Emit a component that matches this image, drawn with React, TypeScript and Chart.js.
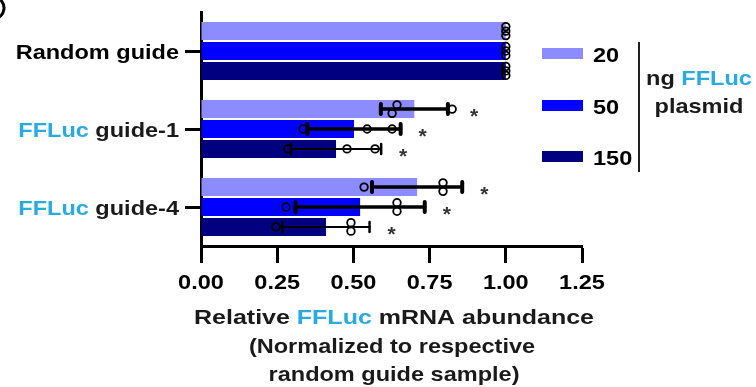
import React, { useEffect, useRef } from "react";
import { Chart, registerables } from "chart.js";

Chart.register(...registerables);

// ---------- data ----------
const categoryHighlight = ["", "FFLuc ", "FFLuc "];
const categoryRest = ["Random guide", "guide-1", "guide-4"];
const categories = categoryRest.map((r, i) => categoryHighlight[i] + r);

const seriesLabels = ["20", "50", "150"];
const seriesColors = ["#8c8cff", "#0000ff", "#000080"];

const mean20 = [1.0, 0.7, 0.709];
const mean50 = [1.0, 0.502, 0.522];
const mean150 = [1.0, 0.443, 0.41];

const sd20 = [0, 0.11, 0.148];
const sd50 = [0, 0.153, 0.212];
const sd150 = [0, 0.148, 0.143];

const reps20 = [
  [1, 1, 1],
  [0.643, 0.627, 0.824],
  [0.535, 0.794, 0.794],
];
const reps50 = [
  [1, 1, 1],
  [0.335, 0.545, 0.627],
  [0.279, 0.643, 0.643],
];
const reps150 = [
  [1, 1, 1],
  [0.285, 0.479, 0.571],
  [0.246, 0.492, 0.492],
];

const sig20 = ["", "*", "*"];
const sig50 = ["", "*", "*"];
const sig150 = ["", "*", "*"];

const xTickValues = [0, 0.25, 0.5, 0.75, 1.0, 1.25];
const xTickLabels = ["0.00", "0.25", "0.50", "0.75", "1.00", "1.25"];

const legendTitleHighlight = "FFLuc";

// ---------- styling ----------
const FONT = "'Liberation Sans', Arial, Helvetica, sans-serif";
const DARK = "#1a1a1a";
const CYAN = "#29abe2";
const FS = 21;
const SX = 1.12;

type Part = { text: string; color: string };

function drawParts(
  ctx: CanvasRenderingContext2D,
  parts: Part[],
  x: number,
  y: number,
  align: "left" | "right" | "center",
  size: number,
  sx: number
) {
  ctx.save();
  ctx.font = `bold ${size}px ${FONT}`;
  ctx.textBaseline = "alphabetic";
  ctx.textAlign = "left";
  const widths = parts.map((p) => ctx.measureText(p.text).width);
  const total = widths.reduce((a, b) => a + b, 0) * sx;
  const start = align === "left" ? x : align === "right" ? x - total : x - total / 2;
  ctx.translate(start, y);
  ctx.scale(sx, 1);
  let cx = 0;
  parts.forEach((p, i) => {
    ctx.fillStyle = p.color;
    ctx.fillText(p.text, cx, 0);
    cx += widths[i];
  });
  ctx.restore();
}

function pointOffsets(pixels: number[]): number[] {
  const idx = pixels.map((_, i) => i).sort((a, b) => pixels[b] - pixels[a]);
  const offs = new Array(pixels.length).fill(0);
  const clusters: number[][] = [];
  idx.forEach((i) => {
    const last = clusters[clusters.length - 1];
    if (last && Math.abs(pixels[last[last.length - 1]] - pixels[i]) < 8) last.push(i);
    else clusters.push([i]);
  });
  clusters.forEach((c) => {
    const n = c.length;
    const step = n === 2 ? 8.5 : 4.5;
    c.forEach((i, k) => {
      offs[i] = (k - (n - 1) / 2) * step;
    });
  });
  return offs;
}

const means = [mean20, mean50, mean150];
const sds = [sd20, sd50, sd150];
const reps = [reps20, reps50, reps150];
const sigs = [sig20, sig50, sig150];
const errWidths = [3.5, 3.5, 2];

const overlayPlugin = {
  id: "overlay",
  afterDatasetsDraw(chart: any) {
    const ctx: CanvasRenderingContext2D = chart.ctx;
    const xs = chart.scales.x;
    means.forEach((m, d) => {
      const meta = chart.getDatasetMeta(d);
      m.forEach((v, i) => {
        const bar = meta.data[i];
        const y = bar.y;
        const sd = sds[d][i];
        let hiPx = xs.getPixelForValue(v);
        if (sd > 0) {
          const lo = xs.getPixelForValue(v - sd);
          const hi = xs.getPixelForValue(v + sd);
          hiPx = hi;
          ctx.save();
          ctx.strokeStyle = "#000";
          ctx.lineCap = "round";
          ctx.lineWidth = errWidths[d];
          ctx.beginPath();
          ctx.moveTo(lo, y);
          ctx.lineTo(hi, y);
          ctx.stroke();
          ctx.lineWidth = errWidths[d] + 0.5;
          ctx.beginPath();
          ctx.moveTo(lo, y - 5);
          ctx.lineTo(lo, y + 5);
          ctx.moveTo(hi, y - 5);
          ctx.lineTo(hi, y + 5);
          ctx.stroke();
          ctx.restore();
        }
        // points
        const pts = reps[d][i].map((r) => xs.getPixelForValue(r));
        const offs = pointOffsets(pts);
        ctx.save();
        ctx.strokeStyle = "#000";
        ctx.lineWidth = 1.8;
        pts.forEach((px, k) => {
          ctx.beginPath();
          ctx.arc(px, y + offs[k], 3.8, 0, Math.PI * 2);
          ctx.stroke();
        });
        ctx.restore();
        // significance
        const s = sigs[d][i];
        if (s) {
          const maxPt = Math.max(hiPx, ...pts);
          ctx.save();
          ctx.font = `bold 21px ${FONT}`;
          ctx.fillStyle = "#333";
          ctx.textAlign = "center";
          ctx.textBaseline = "alphabetic";
          ctx.fillText(s, maxPt + 22, y + 14);
          ctx.restore();
        }
      });
    });
  },
  afterDraw(chart: any) {
    const ctx: CanvasRenderingContext2D = chart.ctx;
    const xs = chart.scales.x;
    const ys = chart.scales.y;
    // y labels
    categories.forEach((_, i) => {
      const py = ys.getPixelForTick(i);
      const parts: Part[] = [];
      if (categoryHighlight[i]) parts.push({ text: categoryHighlight[i], color: CYAN });
      parts.push({ text: categoryRest[i], color: i === 0 ? "#000" : DARK });
      drawParts(ctx, parts, 179, py + 7.5, "right", FS, SX);
    });
    // x tick labels
    xTickValues.forEach((v, i) => {
      const px = xs.getPixelForValue(v);
      drawParts(ctx, [{ text: xTickLabels[i], color: "#000" }], px, 289, "center", FS, SX);
    });
    // x title
    const cx = 394;
    drawParts(
      ctx,
      [
        { text: "Relative ", color: DARK },
        { text: "FFLuc", color: CYAN },
        { text: " mRNA abundance", color: DARK },
      ],
      cx,
      324,
      "center",
      FS,
      1.19
    );
    drawParts(ctx, [{ text: "(Normalized to respective", color: DARK }], cx - 2, 353, "center", FS, SX);
    drawParts(ctx, [{ text: "random guide sample)", color: DARK }], cx, 381, "center", FS, SX);

    // legend
    const legendY = [53.5, 105.5, 156.5];
    seriesLabels.forEach((lab, d) => {
      ctx.fillStyle = seriesColors[d];
      ctx.fillRect(542, legendY[d] - 5.5, 41, 11);
      drawParts(ctx, [{ text: lab, color: "#000" }], 593, legendY[d] + 8, "left", FS, SX);
    });
    ctx.save();
    ctx.strokeStyle = "#231f20";
    ctx.lineWidth = 2;
    ctx.beginPath();
    ctx.moveTo(639, 42);
    ctx.lineTo(639, 172);
    ctx.stroke();
    ctx.restore();
    drawParts(
      ctx,
      [
        { text: "ng ", color: DARK },
        { text: legendTitleHighlight, color: CYAN },
      ],
      699,
      85,
      "center",
      FS,
      SX
    );
    drawParts(ctx, [{ text: "plasmid", color: DARK }], 699, 113, "center", FS, SX);

    // corner panel mark (cut off)
    ctx.save();
    ctx.strokeStyle = "#000";
    ctx.lineWidth = 3;
    ctx.beginPath();
    ctx.arc(-7, 8, 11, -Math.PI / 2.2, Math.PI / 2.2);
    ctx.stroke();
    ctx.restore();
  },
};

export default function App() {
  const ref = useRef<HTMLCanvasElement | null>(null);
  useEffect(() => {
    if (!ref.current) return;
    const chart = new Chart(ref.current, {
      type: "bar",
      data: {
        labels: categories,
        datasets: seriesLabels.map((lab, d) => ({
          label: lab,
          data: means[d],
          backgroundColor: seriesColors[d],
          borderWidth: 0,
          categoryPercentage: 0.766,
          barPercentage: 0.9,
        })),
      },
      options: {
        indexAxis: "y",
        responsive: false,
        animation: false,
        devicePixelRatio: 1,
        layout: { padding: { top: 12, right: 174, left: 0, bottom: 0 } },
        plugins: { legend: { display: false }, tooltip: { enabled: false } },
        scales: {
          x: {
            type: "linear",
            min: 0,
            max: 1.25,
            afterBuildTicks: (s: any) => {
              s.ticks = xTickValues.map((v) => ({ value: v }));
            },
            ticks: { display: false },
            grid: {
              display: true,
              drawOnChartArea: false,
              drawTicks: true,
              tickLength: 17,
              tickWidth: 3,
              tickColor: "#000",
            },
            border: { display: true, width: 3, color: "#000" },
            afterFit: (s: any) => {
              s.height = 387 - 246;
            },
          },
          y: {
            type: "category",
            offset: true,
            ticks: { display: false },
            grid: {
              display: true,
              offset: false,
              drawOnChartArea: false,
              drawTicks: true,
              tickLength: 16,
              tickWidth: 3,
              tickColor: "#000",
            },
            border: { display: true, width: 3, color: "#000" },
            afterFit: (s: any) => {
              s.width = 201;
            },
          },
        },
      },
      plugins: [overlayPlugin],
    } as any);
    return () => chart.destroy();
  }, []);
  return (
    <div style={{ position: "absolute", left: 0, top: 0, width: 756, height: 387, background: "#fff" }}>
      <canvas ref={ref} width={756} height={387} style={{ display: "block" }} />
    </div>
  );
}
